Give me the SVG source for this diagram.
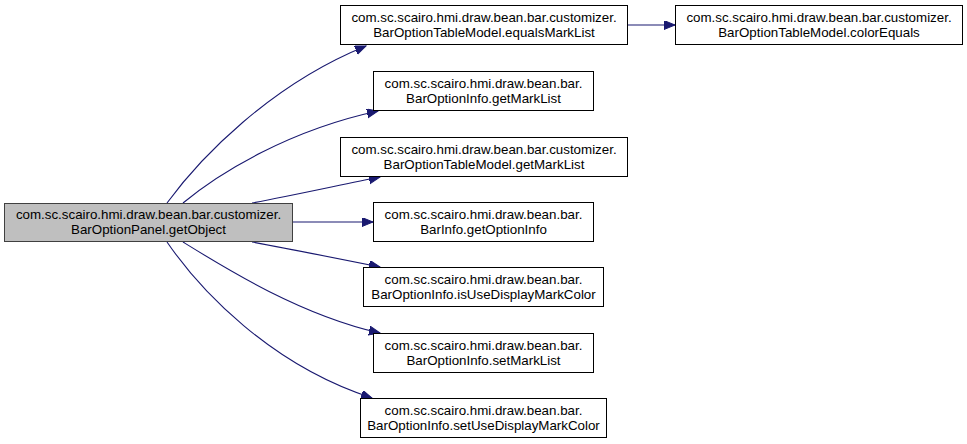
<svg xmlns="http://www.w3.org/2000/svg" width="967" height="444" viewBox="0 0 967 444">
<style>
.n rect{fill:#ffffff;stroke:#000000;stroke-width:1}
.n.main rect{fill:#bfbfbf;stroke:#404040}
.n text{font-family:"Liberation Sans",Arial,sans-serif;font-size:13.33px;fill:#000000;text-anchor:middle}
.e path{fill:none;stroke:#191970;stroke-width:1.1}
</style>
<defs>
<marker id="ah" markerUnits="userSpaceOnUse" markerWidth="12" markerHeight="10" refX="11" refY="4.5" orient="auto">
<path d="M0,0 L11,4.5 L0,9 Z" fill="#191970" stroke="#191970" stroke-width="1"/>
</marker>
</defs>
<rect width="967" height="444" fill="#ffffff"/>
<g id="connectors" class="e">
<path d="M167,203 C200,158 270,85 366,46" marker-end="url(#ah)"/>
<path d="M183,203 C220,172 290,130 378,111" marker-end="url(#ah)"/>
<path d="M252,203 C290,196 340,185 380,177" marker-end="url(#ah)"/>
<path d="M292,222 L373,222" marker-end="url(#ah)"/>
<path d="M252,242 C290,249 340,259 380,267" marker-end="url(#ah)"/>
<path d="M183,242 C225,268 300,315 380,333" marker-end="url(#ah)"/>
<path d="M167,242 C200,290 270,365 372,398" marker-end="url(#ah)"/>
<path d="M627,25 L675,25" marker-end="url(#ah)"/>
</g>
<g id="node-main" class="n main">
<rect x="4.5" y="203.5" width="288" height="38"/>
<text x="148.5" y="219">com.sc.scairo.hmi.draw.bean.bar.customizer.</text>
<text x="148.5" y="234">BarOptionPanel.getObject</text>
</g>
<g id="node-equalsMarkList" class="n">
<rect x="340.5" y="5.5" width="287" height="39"/>
<text x="484" y="22">com.sc.scairo.hmi.draw.bean.bar.customizer.</text>
<text x="484" y="37">BarOptionTableModel.equalsMarkList</text>
</g>
<g id="node-colorEquals" class="n">
<rect x="675.5" y="5.5" width="287" height="39"/>
<text x="819" y="22">com.sc.scairo.hmi.draw.bean.bar.customizer.</text>
<text x="819" y="37">BarOptionTableModel.colorEquals</text>
</g>
<g id="node-BarOptionInfo-getMarkList" class="n">
<rect x="373.5" y="71.5" width="220" height="39"/>
<text x="483.5" y="88">com.sc.scairo.hmi.draw.bean.bar.</text>
<text x="483.5" y="103">BarOptionInfo.getMarkList</text>
</g>
<g id="node-BarOptionTableModel-getMarkList" class="n">
<rect x="340.5" y="137.5" width="287" height="39"/>
<text x="484" y="154">com.sc.scairo.hmi.draw.bean.bar.customizer.</text>
<text x="484" y="169">BarOptionTableModel.getMarkList</text>
</g>
<g id="node-BarInfo-getOptionInfo" class="n">
<rect x="373.5" y="202.5" width="220" height="39"/>
<text x="483.5" y="219">com.sc.scairo.hmi.draw.bean.bar.</text>
<text x="483.5" y="234">BarInfo.getOptionInfo</text>
</g>
<g id="node-isUseDisplayMarkColor" class="n">
<rect x="363.5" y="267.5" width="240" height="39"/>
<text x="483.5" y="284">com.sc.scairo.hmi.draw.bean.bar.</text>
<text x="483.5" y="299">BarOptionInfo.isUseDisplayMarkColor</text>
</g>
<g id="node-setMarkList" class="n">
<rect x="373.5" y="333.5" width="220" height="39"/>
<text x="483.5" y="350">com.sc.scairo.hmi.draw.bean.bar.</text>
<text x="483.5" y="365">BarOptionInfo.setMarkList</text>
</g>
<g id="node-setUseDisplayMarkColor" class="n">
<rect x="360.5" y="398.5" width="246" height="39"/>
<text x="483.5" y="415">com.sc.scairo.hmi.draw.bean.bar.</text>
<text x="483.5" y="430">BarOptionInfo.setUseDisplayMarkColor</text>
</g>
</svg>
